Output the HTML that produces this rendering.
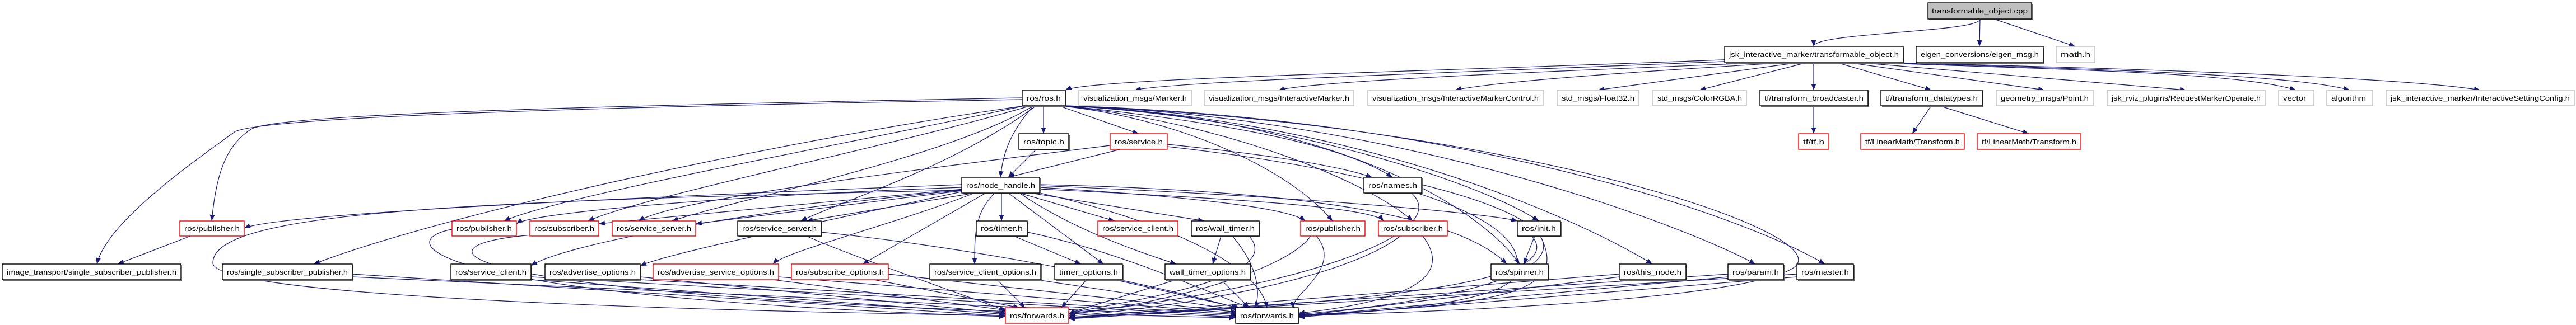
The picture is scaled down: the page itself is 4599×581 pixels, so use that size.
<!DOCTYPE html>
<html><head><meta charset="utf-8"><style>
html,body{margin:0;padding:0;background:#fff;}
svg{display:block;}
text{font-family:"Liberation Sans",sans-serif;font-size:13px;fill:#000;}
.e{fill:none;stroke:#191970;stroke-width:1.2;marker-end:url(#a);}
.k{fill:#fff;stroke:#000;stroke-width:1.4;}
.r{fill:#fff;stroke:#ff0000;stroke-width:1.4;}
.g{fill:#fff;stroke:#bfbfbf;stroke-width:1.4;}
.s{fill:#666;}
</style></head><body>
<svg width="4599" height="581" viewBox="0 0 4599 581" xmlns="http://www.w3.org/2000/svg">
<defs><marker id="a" markerUnits="userSpaceOnUse" markerWidth="12" markerHeight="9" refX="11" refY="4.5" orient="auto"><path d="M0,0 L11,4.5 L0,9 z" fill="#191970"/></marker></defs>
<g>
<path class="e" d="M3535 34 C3535 58 3238 58 3238 83"/>
<path class="e" d="M3535 34 L3534 83"/>
<path class="e" d="M3560 34 L3705 83"/>
<path class="e" d="M3100 106 C2500 130 1950 140 1902 161"/>
<path class="e" d="M3100 109 C2600 130 2100 145 2026 161"/>
<path class="e" d="M3150 112 C2700 130 2350 145 2283 161"/>
<path class="e" d="M3190 112 C2800 135 2650 150 2598 161"/>
<path class="e" d="M3210 112 L2853 161"/>
<path class="e" d="M3225 112 L3034 161"/>
<path class="e" d="M3238 112 L3238 161"/>
<path class="e" d="M3280 112 L3448 161"/>
<path class="e" d="M3300 112 L3650 161"/>
<path class="e" d="M3320 112 L3903 161"/>
<path class="e" d="M3340 112 C3700 125 4000 130 4099 161"/>
<path class="e" d="M3360 112 C3800 125 4100 135 4195 161"/>
<path class="e" d="M3380 112 C3900 125 4300 140 4428 161"/>
<path class="e" d="M3238 189 L3238 239"/>
<path class="e" d="M3448 189 L3414 239"/>
<path class="e" d="M3462 189 L3622 239"/>
<path class="e" d="M1863 189 L1863 239"/>
<path class="e" d="M1845 189 C1800 240 1790 280 1786 317"/>
<path class="e" d="M1890 189 L2033 239"/>
<path class="e" d="M1900 189 C2200 220 2400 260 2486 317"/>
<path class="e" d="M1825 175 C1000 190 500 205 450 230 C400 260 385 320 378 395"/>
<path class="e" d="M1825 178 C1000 192 480 210 420 235 C330 300 190 400 173 472"/>
<path class="e" d="M1830 189 C1400 250 800 380 560 472"/>
<path class="e" d="M1830 189 C1500 260 1000 350 900 395"/>
<path class="e" d="M1840 189 C1600 260 1150 350 1050 395"/>
<path class="e" d="M1845 189 C1700 280 1300 360 1200 395"/>
<path class="e" d="M1850 189 C1700 300 1500 360 1430 395"/>
<path class="e" d="M1890 189 C2100 210 2300 300 2379 395"/>
<path class="e" d="M1895 189 C2200 220 2450 330 2522 395"/>
<path class="e" d="M1900 189 C2300 210 2650 330 2747 395"/>
<path class="e" d="M1900 189 C2400 210 2650 380 2713 472"/>
<path class="e" d="M1900 189 C2400 210 2800 380 2950 472"/>
<path class="e" d="M1900 189 C2500 210 3000 400 3134 472"/>
<path class="e" d="M1900 189 C2600 210 3100 380 3258 472"/>
<path class="e" d="M1900 189 C2700 220 3300 420 3200 480 C3100 540 2500 560 2318 564"/>
<path class="e" d="M1850 267 L1800 317"/>
<path class="e" d="M2000 267 L1800 317"/>
<path class="e" d="M2084 258 C2300 280 2400 300 2450 317"/>
<path class="e" d="M2084 262 C2600 320 2750 420 2700 500 C2650 550 2400 560 2318 564"/>
<path class="e" d="M1982 260 C1500 320 1200 360 1140 395"/>
<path class="e" d="M1717 330 C1200 350 500 380 436 408"/>
<path class="e" d="M1717 335 C1300 350 950 380 922 400"/>
<path class="e" d="M1720 338 L1069 400"/>
<path class="e" d="M1725 340 L1242 400"/>
<path class="e" d="M1740 345 L1440 395"/>
<path class="e" d="M1788 345 L1788 395"/>
<path class="e" d="M1820 345 L1990 395"/>
<path class="e" d="M1840 345 L2150 395"/>
<path class="e" d="M1856 335 C2100 350 2300 370 2330 395"/>
<path class="e" d="M1856 338 C2200 355 2450 370 2470 395"/>
<path class="e" d="M1856 332 C2300 350 2650 380 2709 395"/>
<path class="e" d="M1856 330 C2300 340 2600 380 2690 472"/>
<path class="e" d="M1717 340 C1300 380 1000 440 948 475"/>
<path class="e" d="M1720 342 C1500 390 1200 450 1143 475"/>
<path class="e" d="M1740 345 C1600 400 1400 450 1380 472"/>
<path class="e" d="M1760 345 L1540 472"/>
<path class="e" d="M1776 345 C1740 380 1740 420 1740 472"/>
<path class="e" d="M1800 345 L1970 472"/>
<path class="e" d="M1820 345 C1900 400 2000 440 2100 472"/>
<path class="e" d="M1717 340 C800 360 380 380 380 470 C380 540 1500 560 1795 564"/>
<path class="e" d="M1856 345 C2100 400 2250 480 2262 550"/>
<path class="e" d="M2520 345 C2600 420 2300 520 1908 560"/>
<path class="e" d="M2538 330 C2900 420 2800 520 2318 562"/>
<path class="e" d="M340 422 L210 472"/>
<path class="e" d="M1810 422 L1930 472"/>
<path class="e" d="M1834 415 C2000 450 2150 520 2230 550"/>
<path class="e" d="M2180 422 L2165 472"/>
<path class="e" d="M2200 422 C2250 480 2250 530 2240 550"/>
<path class="e" d="M2230 422 C2300 500 2000 540 1908 560"/>
<path class="e" d="M2100 500 L1908 560"/>
<path class="e" d="M2180 500 L2230 550"/>
<path class="e" d="M1940 500 L1895 550"/>
<path class="e" d="M1990 500 L2210 550"/>
<path class="e" d="M1780 500 L1830 550"/>
<path class="e" d="M1850 500 L2215 555"/>
<path class="e" d="M1560 500 L1820 550"/>
<path class="e" d="M1586 490 L2208 558"/>
<path class="e" d="M1380 500 L1800 555"/>
<path class="e" d="M1390 495 L2208 560"/>
<path class="e" d="M1143 495 L1797 560"/>
<path class="e" d="M1143 500 L2208 562"/>
<path class="e" d="M948 500 L1796 562"/>
<path class="e" d="M948 495 L2208 565"/>
<path class="e" d="M629 490 L1796 565"/>
<path class="e" d="M629 495 L2208 567"/>
<path class="e" d="M1440 422 C1500 450 1700 520 1795 555"/>
<path class="e" d="M1466 415 C1800 450 2100 520 2215 552"/>
<path class="e" d="M807 410 C700 430 740 530 1795 566"/>
<path class="e" d="M950 420 C700 440 800 540 2206 568"/>
<path class="e" d="M2340 422 C2300 480 2100 540 1908 562"/>
<path class="e" d="M2350 422 C2400 480 2300 530 2310 550"/>
<path class="e" d="M2500 422 C2400 500 2100 550 1908 565"/>
<path class="e" d="M2540 422 C2600 500 2500 540 2318 560"/>
<path class="e" d="M2740 422 L2720 472"/>
<path class="e" d="M2735 422 C2800 500 2500 540 1908 567"/>
<path class="e" d="M2750 422 C2800 520 2700 545 2318 563"/>
<path class="e" d="M2891 490 L1908 568"/>
<path class="e" d="M2891 495 L2318 565"/>
<path class="e" d="M3085 490 L1908 569"/>
<path class="e" d="M3085 495 L2318 566"/>
<path class="e" d="M3208 495 L2318 567"/>
<path class="e" d="M3208 490 L1908 570"/>
</g>
<g>
<!-- row0 -->
<rect class="s" x="3444" y="7" width="185" height="29"/><rect x="3442" y="5" width="185" height="29" fill="#bfbfbf" stroke="#000" stroke-width="1.4"/><text x="3449" y="24" textLength="171" lengthAdjust="spacingAndGlyphs">transformable_object.cpp</text>
<!-- row1 -->
<rect class="s" x="3081" y="85" width="319" height="29"/><rect class="k" x="3079" y="83" width="319" height="29"/><text x="3087" y="102" textLength="303" lengthAdjust="spacingAndGlyphs">jsk_interactive_marker/transformable_object.h</text>
<rect class="s" x="3423" y="85" width="227" height="29"/><rect class="k" x="3421" y="83" width="227" height="29"/><text x="3429" y="102" textLength="211" lengthAdjust="spacingAndGlyphs">eigen_conversions/eigen_msg.h</text>
<rect class="g" x="3671" y="83" width="69" height="29"/><text x="3679" y="102" textLength="53" lengthAdjust="spacingAndGlyphs">math.h</text>
<!-- row2 -->
<rect class="s" x="1827" y="163" width="77" height="28"/><rect class="k" x="1825" y="161" width="77" height="28"/><text x="1833" y="180" textLength="61" lengthAdjust="spacingAndGlyphs">ros/ros.h</text>
<rect class="g" x="1926" y="161" width="201" height="28"/><text x="1934" y="180" textLength="185" lengthAdjust="spacingAndGlyphs">visualization_msgs/Marker.h</text>
<rect class="g" x="2150" y="161" width="267" height="28"/><text x="2158" y="180" textLength="251" lengthAdjust="spacingAndGlyphs">visualization_msgs/InteractiveMarker.h</text>
<rect class="g" x="2442" y="161" width="313" height="28"/><text x="2450" y="180" textLength="297" lengthAdjust="spacingAndGlyphs">visualization_msgs/InteractiveMarkerControl.h</text>
<rect class="g" x="2780" y="161" width="146" height="28"/><text x="2788" y="180" textLength="130" lengthAdjust="spacingAndGlyphs">std_msgs/Float32.h</text>
<rect class="g" x="2951" y="161" width="167" height="28"/><text x="2959" y="180" textLength="151" lengthAdjust="spacingAndGlyphs">std_msgs/ColorRGBA.h</text>
<rect class="s" x="3144" y="163" width="193" height="28"/><rect class="k" x="3142" y="161" width="193" height="28"/><text x="3150" y="180" textLength="177" lengthAdjust="spacingAndGlyphs">tf/transform_broadcaster.h</text>
<rect class="s" x="3360" y="163" width="181" height="28"/><rect class="k" x="3358" y="161" width="181" height="28"/><text x="3366" y="180" textLength="165" lengthAdjust="spacingAndGlyphs">tf/transform_datatypes.h</text>
<rect class="g" x="3564" y="161" width="173" height="28"/><text x="3572" y="180" textLength="157" lengthAdjust="spacingAndGlyphs">geometry_msgs/Point.h</text>
<rect class="g" x="3762" y="161" width="282" height="28"/><text x="3770" y="180" textLength="266" lengthAdjust="spacingAndGlyphs">jsk_rviz_plugins/RequestMarkerOperate.h</text>
<rect class="g" x="4068" y="161" width="63" height="28"/><text x="4076" y="180" textLength="41" lengthAdjust="spacingAndGlyphs">vector</text>
<rect class="g" x="4154" y="161" width="82" height="28"/><text x="4162" y="180" textLength="62" lengthAdjust="spacingAndGlyphs">algorithm</text>
<rect class="g" x="4260" y="161" width="336" height="28"/><text x="4268" y="180" textLength="320" lengthAdjust="spacingAndGlyphs">jsk_interactive_marker/InteractiveSettingConfig.h</text>
<!-- row3 -->
<rect class="s" x="1821" y="241" width="89" height="28"/><rect class="k" x="1819" y="239" width="89" height="28"/><text x="1827" y="258" textLength="73" lengthAdjust="spacingAndGlyphs">ros/topic.h</text>
<rect class="r" x="1982" y="239" width="102" height="28"/><text x="1990" y="258" textLength="86" lengthAdjust="spacingAndGlyphs">ros/service.h</text>
<rect class="r" x="3211" y="239" width="54" height="28"/><text x="3219" y="258" textLength="38" lengthAdjust="spacingAndGlyphs">tf/tf.h</text>
<rect class="r" x="3322" y="239" width="185" height="28"/><text x="3330" y="258" textLength="169" lengthAdjust="spacingAndGlyphs">tf/LinearMath/Transform.h</text>
<rect class="r" x="3530" y="239" width="185" height="28"/><text x="3538" y="258" textLength="169" lengthAdjust="spacingAndGlyphs">tf/LinearMath/Transform.h</text>
<!-- row4 -->
<rect class="s" x="1719" y="319" width="139" height="28"/><rect class="k" x="1717" y="317" width="139" height="28"/><text x="1725" y="336" textLength="123" lengthAdjust="spacingAndGlyphs">ros/node_handle.h</text>
<rect class="s" x="2437" y="319" width="103" height="28"/><rect class="k" x="2435" y="317" width="103" height="28"/><text x="2443" y="336" textLength="87" lengthAdjust="spacingAndGlyphs">ros/names.h</text>
<!-- row5 -->
<rect class="r" x="321" y="395" width="115" height="27"/><text x="329" y="413" textLength="99" lengthAdjust="spacingAndGlyphs">ros/publisher.h</text>
<rect class="r" x="807" y="395" width="115" height="27"/><text x="815" y="413" textLength="99" lengthAdjust="spacingAndGlyphs">ros/publisher.h</text>
<rect class="r" x="946" y="395" width="123" height="27"/><text x="954" y="413" textLength="107" lengthAdjust="spacingAndGlyphs">ros/subscriber.h</text>
<rect class="r" x="1093" y="395" width="149" height="27"/><text x="1101" y="413" textLength="133" lengthAdjust="spacingAndGlyphs">ros/service_server.h</text>
<rect class="s" x="1319" y="397" width="149" height="27"/><rect class="k" x="1317" y="395" width="149" height="27"/><text x="1325" y="413" textLength="133" lengthAdjust="spacingAndGlyphs">ros/service_server.h</text>
<rect class="s" x="1745" y="397" width="91" height="27"/><rect class="k" x="1743" y="395" width="91" height="27"/><text x="1751" y="413" textLength="75" lengthAdjust="spacingAndGlyphs">ros/timer.h</text>
<rect class="r" x="1960" y="395" width="143" height="27"/><text x="1968" y="413" textLength="127" lengthAdjust="spacingAndGlyphs">ros/service_client.h</text>
<rect class="s" x="2129" y="397" width="121" height="27"/><rect class="k" x="2127" y="395" width="121" height="27"/><text x="2135" y="413" textLength="105" lengthAdjust="spacingAndGlyphs">ros/wall_timer.h</text>
<rect class="r" x="2322" y="395" width="115" height="27"/><text x="2330" y="413" textLength="99" lengthAdjust="spacingAndGlyphs">ros/publisher.h</text>
<rect class="r" x="2461" y="395" width="123" height="27"/><text x="2469" y="413" textLength="107" lengthAdjust="spacingAndGlyphs">ros/subscriber.h</text>
<rect class="s" x="2711" y="397" width="77" height="27"/><rect class="k" x="2709" y="395" width="77" height="27"/><text x="2717" y="413" textLength="61" lengthAdjust="spacingAndGlyphs">ros/init.h</text>
<!-- row6 -->
<rect class="s" x="6" y="474" width="319" height="28"/><rect class="k" x="4" y="472" width="319" height="28"/><text x="12" y="491" textLength="303" lengthAdjust="spacingAndGlyphs">image_transport/single_subscriber_publisher.h</text>
<rect class="s" x="399" y="474" width="232" height="28"/><rect class="k" x="397" y="472" width="232" height="28"/><text x="405" y="491" textLength="216" lengthAdjust="spacingAndGlyphs">ros/single_subscriber_publisher.h</text>
<rect class="s" x="807" y="474" width="143" height="28"/><rect class="k" x="805" y="472" width="143" height="28"/><text x="813" y="491" textLength="127" lengthAdjust="spacingAndGlyphs">ros/service_client.h</text>
<rect class="s" x="975" y="474" width="170" height="28"/><rect class="k" x="973" y="472" width="170" height="28"/><text x="981" y="491" textLength="154" lengthAdjust="spacingAndGlyphs">ros/advertise_options.h</text>
<rect class="r" x="1166" y="472" width="224" height="28"/><text x="1174" y="491" textLength="208" lengthAdjust="spacingAndGlyphs">ros/advertise_service_options.h</text>
<rect class="r" x="1413" y="472" width="173" height="28"/><text x="1421" y="491" textLength="157" lengthAdjust="spacingAndGlyphs">ros/subscribe_options.h</text>
<rect class="s" x="1662" y="474" width="198" height="28"/><rect class="k" x="1660" y="472" width="198" height="28"/><text x="1668" y="491" textLength="182" lengthAdjust="spacingAndGlyphs">ros/service_client_options.h</text>
<rect class="s" x="1885" y="474" width="121" height="28"/><rect class="k" x="1883" y="472" width="121" height="28"/><text x="1891" y="491" textLength="105" lengthAdjust="spacingAndGlyphs">timer_options.h</text>
<rect class="s" x="2082" y="474" width="152" height="28"/><rect class="k" x="2080" y="472" width="152" height="28"/><text x="2088" y="491" textLength="136" lengthAdjust="spacingAndGlyphs">wall_timer_options.h</text>
<rect class="s" x="2664" y="474" width="102" height="28"/><rect class="k" x="2662" y="472" width="102" height="28"/><text x="2670" y="491" textLength="86" lengthAdjust="spacingAndGlyphs">ros/spinner.h</text>
<rect class="s" x="2893" y="474" width="119" height="28"/><rect class="k" x="2891" y="472" width="119" height="28"/><text x="2899" y="491" textLength="103" lengthAdjust="spacingAndGlyphs">ros/this_node.h</text>
<rect class="s" x="3087" y="474" width="99" height="28"/><rect class="k" x="3085" y="472" width="99" height="28"/><text x="3093" y="491" textLength="83" lengthAdjust="spacingAndGlyphs">ros/param.h</text>
<rect class="s" x="3210" y="474" width="101" height="28"/><rect class="k" x="3208" y="472" width="101" height="28"/><text x="3216" y="491" textLength="85" lengthAdjust="spacingAndGlyphs">ros/master.h</text>
<!-- row7 -->
<rect class="r" x="1795" y="550" width="113" height="28"/><text x="1803" y="569" textLength="97" lengthAdjust="spacingAndGlyphs">ros/forwards.h</text>
<rect class="s" x="2208" y="552" width="112" height="28"/><rect class="k" x="2206" y="550" width="112" height="28"/><text x="2214" y="569" textLength="96" lengthAdjust="spacingAndGlyphs">ros/forwards.h</text>
</g>
</svg>
</body></html>
